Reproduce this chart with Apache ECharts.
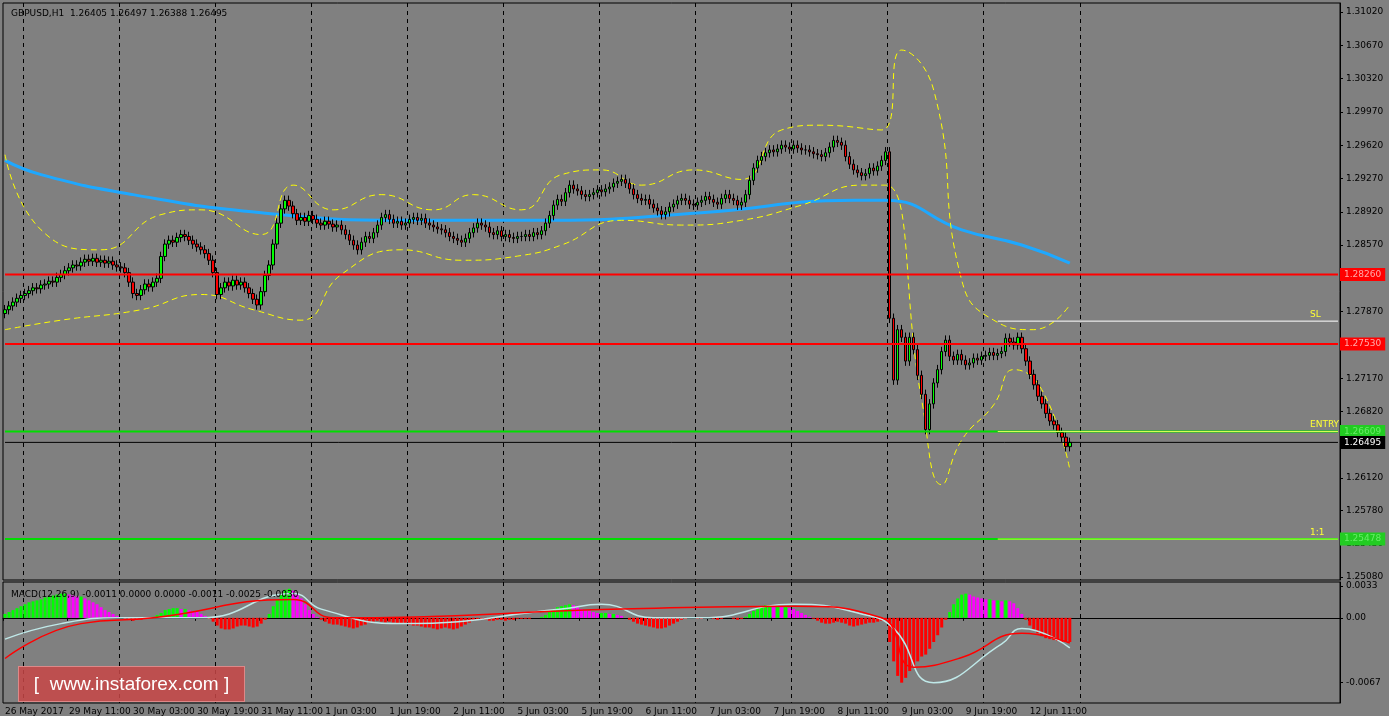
<!DOCTYPE html>
<html>
<head>
<meta charset="utf-8">
<script src="https://cdn.jsdelivr.net/npm/echarts@6/dist/echarts.min.js"></script>
<style>
  html, body { margin: 0; padding: 0; background: #808080; }
  #chart { width: 1389px; height: 716px; }
  .wm { position: absolute; left: 18px; top: 666px; width: 225px; height: 34px; background: rgba(200,70,70,0.85);
        border: 1px solid #d88; color: #fff; font: 19px "Liberation Sans", sans-serif; line-height: 34px; text-align: center; }
</style>
</head>
<body>
<div id="chart"></div>
<div class="wm">[&nbsp; www.instaforex.com ]</div>
<script>
// GBPUSD H1 chart

const firstOpen = 1.2785;
const closes = [
  1.2789,1.2793,1.2797,1.2801,1.2804,1.2806,1.2809,1.2812,1.2811,1.2815,
  1.2816,1.2819,1.2818,1.2823,1.2826,1.2830,1.2833,1.2836,1.2835,1.2839,
  1.2842,1.2840,1.2843,1.2839,1.2841,1.2838,1.2840,1.2836,1.2834,1.2833,
  1.2828,1.2818,1.2806,1.2804,1.2810,1.2816,1.2813,1.2818,1.2822,1.2845,
  1.2858,1.2862,1.2860,1.2865,1.2868,1.2866,1.2862,1.2858,1.2855,1.2852,
  1.2848,1.2841,1.2828,1.2805,1.2812,1.2818,1.2814,1.2820,1.2815,1.2818,
  1.2812,1.2806,1.2800,1.2794,1.2808,1.2825,1.2836,1.2858,1.2880,1.2895,
  1.2904,1.2898,1.2890,1.2883,1.2886,1.2882,1.2888,1.2884,1.2880,1.2878,
  1.2882,1.2879,1.2876,1.2878,1.2873,1.2868,1.2862,1.2857,1.2852,1.2860,
  1.2866,1.2864,1.2870,1.2878,1.2886,1.2889,1.2884,1.2880,1.2882,1.2878,
  1.2880,1.2884,1.2886,1.2883,1.2885,1.2880,1.2878,1.2876,1.2874,1.2873,
  1.2870,1.2866,1.2864,1.2862,1.2860,1.2864,1.2870,1.2875,1.2880,1.2878,
  1.2876,1.2870,1.2868,1.2872,1.2866,1.2868,1.2865,1.2864,1.2866,1.2866,
  1.2868,1.2866,1.2870,1.2868,1.2872,1.2880,1.2888,1.2899,1.2905,1.2903,
  1.2912,1.2920,1.2916,1.2914,1.2910,1.2908,1.2910,1.2912,1.2915,1.2913,
  1.2916,1.2918,1.2922,1.2924,1.2926,1.2922,1.2916,1.2910,1.2906,1.2904,
  1.2905,1.2900,1.2896,1.2893,1.2889,1.2892,1.2897,1.2900,1.2904,1.2906,
  1.2904,1.2900,1.2899,1.2902,1.2904,1.2908,1.2905,1.2902,1.2900,1.2906,
  1.2910,1.2906,1.2904,1.2899,1.2902,1.2910,1.2925,1.2938,1.2946,1.2950,
  1.2954,1.2957,1.2955,1.2958,1.2962,1.2960,1.2958,1.2962,1.2959,1.2957,
  1.2957,1.2955,1.2953,1.2952,1.2950,1.2954,1.2960,1.2967,1.2965,1.2962,
  1.2950,1.2942,1.2936,1.2933,1.2930,1.2932,1.2938,1.2935,1.2940,1.2946,
  1.2955,1.2780,1.2715,1.2768,1.2760,1.2735,1.2760,1.2747,1.2720,1.2700,
  1.2663,1.2690,1.2712,1.2726,1.2745,1.2757,1.2740,1.2736,1.2742,1.2736,
  1.2731,1.2733,1.2738,1.2736,1.2740,1.2741,1.2744,1.2741,1.2743,1.2745,
  1.2759,1.2755,1.2752,1.2760,1.2748,1.2735,1.2721,1.2710,1.2698,1.2690,
  1.2680,1.2672,1.2668,1.2660,1.2655,1.2645,1.26495
];
const wick = 0.0005;

// MACD histogram, in units of 0.0001
const macdHist = [
  4,6,8,10,12,14,16,17,18,19, 21,22,23,24,25,25,24,23,22,22,
  20,18,16,14,11,8,6,4,2,0, -1,-2,-3,-2,-2,-1,0,1,3,5,
  8,9,10,10,9,9,8,7,6,4, 2,-1,-4,-8,-11,-12,-12,-11,-9,-8,
  -8,-9,-10,-9,-6,-2,4,12,19,25, 29,30,28,25,20,14,8,4,1,-2,
  -4,-6,-7,-7,-8,-9,-10,-11,-10,-8, -7,-5,-4,-3,-4,-5,-4,-5,-6,-6,
  -6,-7,-8,-8,-9,-10,-10,-11,-12,-11, -10,-11,-12,-11,-9,-7,-5,-3,-2,-2,
  -2,-3,-3,-2,-2,-3,-2,-2,-1,-1, -1,-1,0,0,1,3,6,9,11,12,
  13,14,13,11,9,8,7,6,5,5, 5,4,4,3,2,0,-2,-4,-6,-7,
  -8,-9,-10,-11,-11,-10,-8,-6,-4,-2, -1,0,0,-1,-1,0,0,-1,-2,-1,
  0,0,-1,-2,-1,1,4,7,10,12, 13,13,12,12,11,11,10,9,7,5,
  3,1,-1,-3,-5,-6,-6,-5,-4,-5, -6,-8,-9,-8,-7,-6,-5,-5,-4,-3,
  -2,-25,-45,-60,-67,-62,-55,-50,-45,-40, -38,-32,-25,-18,-10,-2,6,14,20,24,
  25,24,22,21,20,19,19,18,18,17, 18,17,15,10,4,-2,-8,-12,-16,-19,
  -21,-22,-23,-24,-25,-25,-25
];

// sparse reads of the smooth lines: [bar index, value]
const maLine = [[0,1.2946],[9,1.2931],[32,1.2910],[64,1.2891],[99,1.2883],[137,1.2883],[174,1.2891],[212,1.2904],[220,1.2904],[239,1.2873],[254,1.2857],[266,1.2838]];
const bandUpper = [[0,1.2952],[9,1.2873],[24,1.2852],[39,1.2889],[49,1.2894],[64,1.2868],[72,1.2920],[82,1.2894],[94,1.2910],[107,1.2894],[117,1.2910],[129,1.2894],[139,1.2931],[149,1.2936],[159,1.2920],[172,1.2936],[184,1.2926],[194,1.2978],[204,1.2983],[219,1.2978],[224,1.3062],[232,1.3020],[239,1.2820],[247,1.2778],[257,1.2768],[266,1.2794]];
const bandLower = [[0,1.2768],[14,1.2778],[34,1.2789],[49,1.2805],[62,1.2789],[74,1.2778],[84,1.2826],[99,1.2852],[114,1.2841],[129,1.2846],[139,1.2857],[154,1.2883],[169,1.2878],[184,1.2883],[199,1.2899],[214,1.2920],[220,1.2920],[229,1.2694],[234,1.2605],[239,1.2652],[247,1.2689],[252,1.2726],[259,1.2705],[266,1.2621]];
const macdMain = [[0,-0.0022],[14,-0.0006],[29,0],[49,0],[72,0.0025],[79,0.0009],[99,-0.0006],[139,0.0009],[149,0.0014],[162,0],[174,0],[197,0.0014],[214,0.0004],[222,-0.0011],[232,-0.0067],[249,-0.0027],[254,-0.0011],[266,-0.0031]];
const macdSignal = [[0,-0.0042],[19,-0.0006],[37,0],[72,0.0019],[82,0],[154,0.0009],[197,0.0012],[219,0],[227,-0.0051],[239,-0.0041],[254,-0.0016],[266,-0.0026]];

const slots = 334;
const timeLabels = ['26 May 2017','29 May 11:00','30 May 03:00','30 May 19:00','31 May 11:00','1 Jun 03:00','1 Jun 19:00','2 Jun 11:00','5 Jun 03:00','5 Jun 19:00','6 Jun 11:00','7 Jun 03:00','7 Jun 19:00','8 Jun 11:00','9 Jun 03:00','9 Jun 19:00','12 Jun 11:00'];
const priceTicks = [1.31020,1.30670,1.30320,1.29970,1.29620,1.29270,1.28920,1.28570,1.28220,1.27870,1.27170,1.26820,1.26120,1.25780,1.25430,1.25080];
const macdTicks = [0.0033, 0, -0.0067];
const levels = [
  { v: 1.28260, line: '#ff0000', bg: '#ff0000', fg: '#ffaaaa' },
  { v: 1.27530, line: '#ff0000', bg: '#ff0000', fg: '#ffaaaa' },
  { v: 1.26609, line: '#00dd00', bg: '#22cc22', fg: '#66ee66' },
  { v: 1.25478, line: '#00dd00', bg: '#22cc22', fg: '#66ee66' },
  { v: 1.26495, line: '#000000', bg: '#000000', fg: '#ffffff' }
];
const tradeMarks = [ { v: 1.27770, name: 'SL', color: '#ffffff' }, { v: 1.26609, name: 'ENTRY', color: '#ddff55' }, { v: 1.25478, name: '1:1', color: '#ddff55' } ];
const tradeStart = 248;
const lastGrid = 269;

const cats = [];
for (let i = 0; i < slots; i++) cats.push(i % 16 === 0 ? (timeLabels[i / 16] || '') : '');

const candles = closes.map((c, i) => {
  const o = i === 0 ? firstOpen : closes[i - 1];
  return [o, c, Math.min(o, c) - wick, Math.max(o, c) + wick];
});
const hist = macdHist.map((v, i) => {
  const prev = i === 0 ? v : macdHist[i - 1];
  const color = v >= 0 ? (v >= prev ? '#00ff00' : '#ff00ff') : '#ff0000';
  return { value: v / 10000, itemStyle: { color: color } };
});

const font = { fontFamily: 'DejaVu Sans', fontSize: 9 };
const lbl = Object.assign({ color: '#000' }, font);
const gridAt = (i) => i <= lastGrid && (i - 5) % 24 === 0;

const levelSeries = levels.map(l => ({
  type: 'line', xAxisIndex: 0, yAxisIndex: 0, data: [[0, l.v], [slots - 1, l.v]], showSymbol: false, z: 4,
  lineStyle: { color: l.line, width: l.line === '#000000' ? 1 : 2 },
  endLabel: Object.assign({ show: true, formatter: l.v.toFixed(5), distance: 2, backgroundColor: l.bg, color: l.fg, padding: [2, 4] }, font)
}));
const tradeSeries = tradeMarks.map(m => ({
  type: 'line', xAxisIndex: 0, yAxisIndex: 0, z: 5, symbolSize: 0, showSymbol: true,
  data: [[tradeStart, m.v], { value: [slots - 1, m.v], label: Object.assign({ show: true, position: [-28, -11], formatter: m.name, color: '#ffff33' }, font) }],
  lineStyle: { color: m.color, width: 1 }
}));

const chart = echarts.init(document.getElementById('chart'));
chart.setOption({
  backgroundColor: '#808080',
  animation: false,
  title: [
    { text: 'GBPUSD,H1  1.26405 1.26497 1.26388 1.26495', left: 6, top: 4, textStyle: Object.assign({ color: '#000', fontWeight: 'normal' }, font) },
    { text: 'MACD(12,26,9) -0.0011 0.0000 0.0000 -0.0011 -0.0025 -0.0030', left: 6, top: 585, textStyle: Object.assign({ color: '#000', fontWeight: 'normal' }, font) }
  ],
  grid: [
    { left: 3, right: 49, top: 3, height: 577, show: true, borderColor: '#000', borderWidth: 1, backgroundColor: 'transparent' },
    { left: 3, right: 49, top: 582, height: 125, show: true, borderColor: '#000', borderWidth: 1, backgroundColor: 'transparent' }
  ],
  xAxis: [
    { type: 'category', data: cats, gridIndex: 0, axisLine: { show: false }, axisTick: { show: false }, axisLabel: { show: false },
      splitLine: { show: true, interval: gridAt, lineStyle: { color: '#000', type: [4, 4] } } },
    { type: 'category', data: cats, gridIndex: 1, axisLine: { show: true, lineStyle: { color: '#000' } },
      axisTick: { show: true, interval: (i) => i % 16 === 0 && i <= 256, length: 3, lineStyle: { color: '#000' } },
      axisLabel: Object.assign({ show: true, interval: 15, align: 'left', margin: 4 }, lbl),
      splitLine: { show: true, interval: gridAt, lineStyle: { color: '#000', type: [4, 4] } } }
  ],
  yAxis: [
    { type: 'value', gridIndex: 0, position: 'right', min: 1.25048, max: 1.31115,
      axisLabel: Object.assign({ show: true, customValues: priceTicks, formatter: (v) => v.toFixed(5), margin: 6 }, lbl),
      axisLine: { show: true, lineStyle: { color: '#000' } }, axisTick: { show: true, customValues: priceTicks, length: 3, lineStyle: { color: '#000' } }, splitLine: { show: false } },
    { type: 'value', gridIndex: 1, position: 'right', min: -0.0088, max: 0.0037,
      axisLabel: Object.assign({ show: true, customValues: macdTicks, formatter: (v) => v === 0 ? '0.00' : v.toFixed(4), margin: 6 }, lbl),
      axisLine: { show: true, lineStyle: { color: '#000' } }, axisTick: { show: true, customValues: macdTicks, length: 3, lineStyle: { color: '#000' } }, splitLine: { show: false } }
  ],
  series: [
    { type: 'line', xAxisIndex: 0, yAxisIndex: 0, data: maLine, smooth: true, showSymbol: false, lineStyle: { color: '#1ea8ff', width: 3 } },
    { type: 'line', xAxisIndex: 0, yAxisIndex: 0, data: bandUpper, smooth: true, showSymbol: false, lineStyle: { color: '#ffff00', width: 1, type: [6, 4] } },
    { type: 'line', xAxisIndex: 0, yAxisIndex: 0, data: bandLower, smooth: true, showSymbol: false, lineStyle: { color: '#ffff00', width: 1, type: [6, 4] } },
    { type: 'candlestick', xAxisIndex: 0, yAxisIndex: 0, data: candles, barWidth: 3, z: 3,
      itemStyle: { color: '#00ff00', color0: '#ff0000', borderColor: '#000', borderColor0: '#000', borderWidth: 1 } },
    { type: 'bar', xAxisIndex: 1, yAxisIndex: 1, data: hist, barWidth: 3 },
    { type: 'line', xAxisIndex: 1, yAxisIndex: 1, data: macdMain, smooth: true, showSymbol: false, lineStyle: { color: '#bfe8e8', width: 1.5 } },
    { type: 'line', xAxisIndex: 1, yAxisIndex: 1, data: macdSignal, smooth: true, showSymbol: false, lineStyle: { color: '#ff0000', width: 1.5 } }
  ].concat(levelSeries, tradeSeries)
});
</script>
</body>
</html>
